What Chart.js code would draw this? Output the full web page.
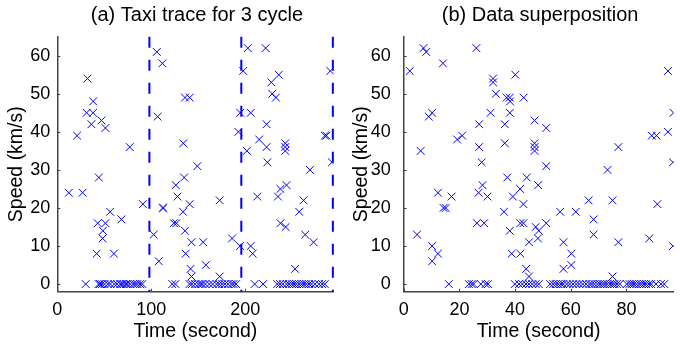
<!DOCTYPE html>
<html lang="en">
<head>
<meta charset="UTF-8">
<title>Taxi trace and data superposition</title>
<script src="https://cdn.jsdelivr.net/npm/chart.js@4.4.0/dist/chart.umd.min.js"></script>
<style>
  html, body { margin: 0; padding: 0; background: #fff; }
  .wrap { position: relative; width: 680px; height: 349px; }
  .panel { position: absolute; top: 0; width: 340px; height: 349px; }
</style>
</head>
<body>
<div class="wrap">
  <div class="panel" style="left:0"><canvas id="traceChart" width="340" height="349"></canvas></div>
  <div class="panel" style="left:340px"><canvas id="foldChart" width="340" height="349"></canvas></div>
</div>

<script>
// (a) full trace, three cycles back to back
const traceTime = [
  // cycle 1
  21, 32.1, 38.2, 31.2, 38.1, 47, 36.3, 51.2, 77.1, 12.3, 26.9, 44.2, 91.1, 56.2, 68.2, 43, 51.2, 48.5, 48.2, 41.9, 60.2,
  // cycle 2
  105.9, 111.9, 106.8, 135.9, 140.9, 134.1, 149.0, 102.6, 108.0, 112.1, 112.9, 126.1, 135.0, 127.9, 133.8, 140.8,
  135.9, 142.8, 136.6, 141.8, 142.8, 124.1, 126.7, 155.2, 158.0, 172.8, 172.8, 186.0, 194.5, 192.7, 194.7,
  // cycle 3
  197.8, 202.7, 221.7, 227.7, 235.7, 228.7, 232.6, 205.8, 222.7, 214.8, 222.7, 201.7, 242.6, 242.6, 242.6, 223.6,
  268.8, 284.7, 286.4, 290.5, 292.3, 205.8, 207.9, 212.8, 234.8, 237.4, 243.9, 237.5, 243.0, 253.0, 257.4, 262.0,
  263.8, 272.7,
  // stopped samples
  30.2, 44, 45.5, 47.4, 50.2, 53.7, 56.5, 60.7, 63.6, 67, 68.5, 70.5, 73, 74.7, 77.6, 80.8, 83, 85.3, 88.1, 90.5,
  122.3, 125.7, 140.7, 143.2, 146.7, 150.2, 152.5, 154.4, 157.6, 161.8, 165.3, 169.5, 172.3, 175.5, 178.3, 181.8, 185.3, 187.5, 190.3,
  210, 219, 234, 237, 240, 243.9, 246.7, 249.5, 252, 254.4, 257.3, 260, 262.5, 265, 267.8, 270.5, 274.1, 278.3, 281.8, 284.6
];
const traceSpeed = [
  39, 54, 48, 45, 45, 43, 42, 41, 36, 24, 24, 28, 21, 19, 17, 16, 16, 14, 12, 8, 8,
  61, 58, 44, 49, 49, 37, 31, 13, 6, 20, 20, 26, 28, 23, 19, 21,
  14, 11, 8, 4, 2, 16, 16, 11, 5, 22, 2, 12, 10, 40, 45,
  56, 62, 62, 53, 55, 50, 49, 45, 42, 38, 36, 35, 37, 36, 35, 32,
  30, 39, 39, 56, 32, 10, 8, 23, 23, 25, 26, 16, 15, 4, 19, 22,
  13, 11,
  0, 0, 0, 0, 0, 0, 0, 0, 0, 0, 0, 0, 0, 0, 0, 0, 0, 0, 0, 0,
  0, 0, 0, 0, 0, 0, 0, 0, 0, 0, 0, 0, 0, 0, 0, 0, 0, 0, 0,
  0, 0, 0, 0, 0, 0, 0, 0, 0, 0, 0, 0, 0, 0, 0, 0, 0, 0, 0, 0
];
const cycleEnds = [98, 195.8, 293.2];

// (b) all cycles laid over one period
const foldTime = [
  2.2, 7.1, 8.1, 14.1, 26.1, 32.1, 32.1, 40.1, 33.1, 37, 38.1, 38.2, 43.1, 9, 10.2, 31.2, 38.1, 27.1, 36.3, 47,
  19.2, 21, 6.1, 27.1, 36.3, 47, 47, 47, 28, 51.2, 51.2, 73.2, 77.1, 89.1, 90.8, 94.9, 94.9, 96.9, 96.7, 37.2, 44.2,
  4.8, 10.2, 10.2, 12.3, 12.3, 14.3, 15.1, 17.2, 26.3, 28.9, 26.9, 28.3, 30.1, 36, 38.1, 39.2, 41.8, 43, 41.9, 43,
  38.8, 41.9, 44, 45, 45, 47.4, 48.5, 48.2, 51.2, 48.3, 56.2, 57.4, 60.2, 60.2, 57.4, 61.8, 66.4, 68.2, 68.2, 75,
  77.1, 75, 88.2, 91.1, 96.7,
  // stopped samples
  16.2, 23.4, 24.4, 25.1, 27.7, 29.4, 30.3, 39.9, 41.4, 42.6, 43.9, 45, 46.2, 47.4, 48.5, 52.6, 53.7, 54.6, 55.5, 56.5,
  57.3, 58.5, 59.6, 60.8, 62, 63.1, 64.3, 65.5, 66.7, 67.5, 68.5, 69.6, 70.5, 71.4, 72.2, 73.1, 74.1, 74.9, 75.7, 76.6,
  77.6, 80.1, 81.1, 81.9, 82.7, 83.6, 84.6, 85.4, 86.3, 87.1, 88.1, 88.9, 90.6, 92.4, 93.6
];
const foldSpeed = [
  56, 62, 61, 58, 62, 54, 53, 55, 50, 49, 49, 48, 49, 44, 45, 45, 45, 42, 42, 43,
  38, 39, 35, 36, 37, 37, 36, 35, 32, 41, 31, 30, 36, 39, 39, 40, 56, 45, 32, 28, 28,
  13, 10, 6, 8, 24, 20, 20, 23, 16, 16, 24, 26, 23, 19, 14, 23, 25, 21, 16, 16,
  8, 8, 4, 2, 11, 15, 14, 12, 16, 26, 19, 11, 8, 5, 4, 19, 22, 17, 13, 22,
  11, 2, 12, 21, 10,
  0, 0, 0, 0, 0, 0, 0, 0, 0, 0, 0, 0, 0, 0, 0, 0, 0, 0, 0, 0,
  0, 0, 0, 0, 0, 0, 0, 0, 0, 0, 0, 0, 0, 0, 0, 0, 0, 0, 0, 0,
  0, 0, 0, 0, 0, 0, 0, 0, 0, 0, 0, 0, 0, 0, 0
];

const traceTicks = [0, 100, 200];
const foldTicks = [0, 20, 40, 60, 80];
const speedTicks = [0, 10, 20, 30, 40, 50, 60];

const BLUE = '#0000ff';
const AXIS = '#444';
const FAMILY = '"Liberation Sans", Arial, Helvetica, sans-serif';

function toPoints(xs, ys) {
  return xs.map((x, i) => ({ x: x, y: ys[i] }));
}

// matlab style: short tick marks pointing into the plot
const innerTicks = {
  id: 'innerTicks',
  afterDatasetsDraw(chart) {
    const { ctx, chartArea: a, scales: { x, y } } = chart;
    ctx.save();
    ctx.strokeStyle = AXIS;
    ctx.lineWidth = 1;
    ctx.beginPath();
    x.ticks.forEach(t => {
      const px = Math.round(x.getPixelForValue(t.value)) + 0.5;
      ctx.moveTo(px, a.bottom);
      ctx.lineTo(px, a.bottom - 3);
    });
    y.ticks.forEach(t => {
      const py = Math.round(y.getPixelForValue(t.value)) + 0.5;
      ctx.moveTo(a.left, py);
      ctx.lineTo(a.left + 3, py);
    });
    ctx.stroke();
    ctx.restore();
  }
};

// title centred over the plotting area
const panelTitle = {
  id: 'panelTitle',
  afterDraw(chart, args, opts) {
    const { ctx, chartArea: a } = chart;
    ctx.save();
    ctx.font = '20px ' + FAMILY;
    ctx.fillStyle = '#000';
    ctx.textAlign = 'center';
    ctx.textBaseline = 'alphabetic';
    ctx.fillText(opts.text, (a.left + a.right) / 2 + 1.5, 21);
    ctx.restore();
  }
};

function makeChart(id, cfg) {
  return new Chart(document.getElementById(id), {
    type: 'scatter',
    data: { datasets: cfg.datasets },
    options: {
      responsive: false,
      animation: false,
      layout: { padding: { top: 36.7, right: cfg.padRight, left: 0, bottom: 0 } },
      plugins: {
        legend: { display: false },
        tooltip: { enabled: false },
        panelTitle: { text: cfg.title }
      },
      scales: {
        x: {
          type: 'linear',
          min: 0,
          max: cfg.xMax,
          afterFit: s => { s.height = 57.3; },
          afterBuildTicks: s => { s.ticks = cfg.xTicks.map(v => ({ value: v })); },
          grid: { display: false, drawTicks: false },
          border: { display: true, color: AXIS, width: 1.5 },
          ticks: { color: '#000', font: { family: FAMILY, size: 18 }, padding: 8, maxRotation: 0, autoSkip: false },
          title: { display: true, text: 'Time (second)', color: '#000', font: { family: FAMILY, size: 19.5 }, padding: { top: 0, bottom: 6 } }
        },
        y: {
          type: 'linear',
          min: -2,
          max: 65,
          afterFit: s => { s.width = cfg.axisLeft; },
          afterBuildTicks: s => { s.ticks = speedTicks.map(v => ({ value: v })); },
          grid: { display: false, drawTicks: false },
          border: { display: true, color: AXIS, width: 1.5 },
          ticks: { color: '#000', font: { family: FAMILY, size: 18 }, padding: cfg.tickPad },
          title: { display: true, text: 'Speed (km/s)', color: '#000', font: { family: FAMILY, size: 19.5 }, padding: { top: cfg.titlePad, bottom: 0 } }
        }
      }
    },
    plugins: [innerTicks, panelTitle]
  });
}

const markerStyle = {
  pointStyle: 'crossRot',
  pointRadius: 5.5,
  pointBorderColor: BLUE,
  pointBorderWidth: 1,
  showLine: false
};

const cycleLines = cycleEnds.map(c => ({
  data: [{ x: c, y: 65 }, { x: c, y: -2 }],
  showLine: true,
  borderColor: BLUE,
  borderWidth: 2,
  borderDash: [11, 12],
  pointRadius: 0,
  clip: false
}));

makeChart('traceChart', {
  title: '(a) Taxi trace for 3 cycle',
  xMax: 293.9,
  xTicks: traceTicks,
  axisLeft: 57.3,
  padRight: 3.5,
  tickPad: 7,
  titlePad: 5,
  datasets: [Object.assign({ data: toPoints(traceTime, traceSpeed) }, markerStyle)].concat(cycleLines)
});

makeChart('foldChart', {
  title: '(b) Data superposition',
  xMax: 96.9,
  xTicks: foldTicks,
  axisLeft: 63.7,
  padRight: 1,
  tickPad: 13,
  titlePad: 10,
  datasets: [Object.assign({ data: toPoints(foldTime, foldSpeed) }, markerStyle)]
});
</script>
</body>
</html>
